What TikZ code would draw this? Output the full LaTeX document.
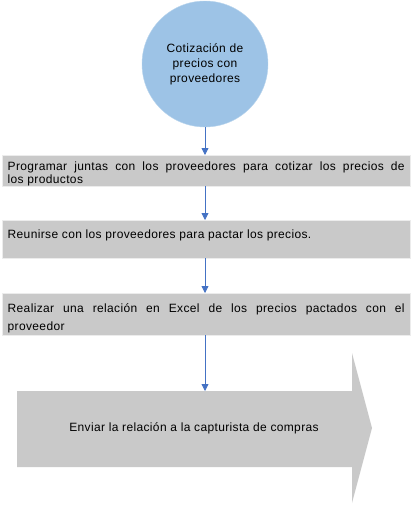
\documentclass[tikz,border=0pt]{standalone}
\usepackage{fontspec}
\setmainfont{Liberation Sans}[LetterSpace=3]
\usepackage{tikz}
\usetikzlibrary{arrows.meta,positioning}
\definecolor{azulc}{HTML}{9DC3E6}
\definecolor{azulf}{HTML}{4472C4}
\definecolor{grisc}{HTML}{C9C9C9}

\begin{document}
\begin{tikzpicture}[x=1pt,y=-1pt,
  paso/.style={draw=gray!15, fill=grisc, anchor=north west, minimum width=408pt,
    text width=397pt, inner xsep=5.5pt, align=justify, font=\fontsize{12}{13}\selectfont},
  flecha/.style={azulf, line width=0.8pt, -{Triangle[length=7pt,width=7pt]}}]
\useasboundingbox (0,0) rectangle (415,506);
% inicio
\node[circle, fill=azulc, draw=azulc!70!white, minimum size=126pt, align=center,
  font=\fontsize{12}{15}\selectfont] (cot) at (205,64) {Cotización de\\precios con\\proveedores};
% pasos
\node[paso, minimum height=31pt, inner ysep=0.5pt, text height=14.6pt] (p1) at (2,155) {Programar juntas con los proveedores para cotizar los precios de\linebreak los productos};
\node[paso, minimum height=38pt, text height=14.6pt, text depth=16pt] (p2) at (2,220) {Reunirse con los proveedores para pactar los precios.};
\node[paso, minimum height=42pt, inner ysep=2pt, text height=16.6pt, font=\fontsize{12}{18}\selectfont] (p3) at (2,293) {Realizar una relación en Excel de los precios pactados con el\linebreak proveedor};
% flecha final
\fill[grisc] (17,391) -- (352,391) -- (352,353) -- (372,428) -- (352,503) -- (352,467) -- (17,467) -- cycle;
\node[font=\fontsize{12}{13}\selectfont] (env) at (194,428) {Enviar la relación a la capturista de compras};
\coordinate (envtop) at (206,391);
% conectores
\draw[flecha] (cot.south) -- (cot.south |- p1.north);
\draw[flecha] (p1.south -| cot) -- (p2.north -| cot);
\draw[flecha] (p2.south -| cot) -- (p3.north -| cot);
\draw[flecha] (p3.south -| cot) -- (envtop -| cot);
\end{tikzpicture}
\end{document}
